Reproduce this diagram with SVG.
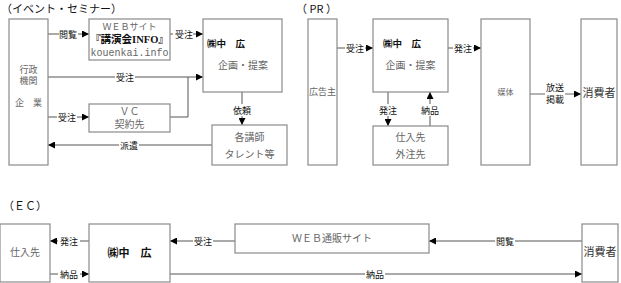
<svg xmlns="http://www.w3.org/2000/svg" width="621" height="283" viewBox="0 0 621 283">
<defs>
<marker id="ah" viewBox="0 0 10 10" refX="10" refY="5" markerWidth="7" markerHeight="7" markerUnits="userSpaceOnUse" orient="auto"><path d="M0,0 L10,5 L0,10 z" fill="#000"/></marker>
<style>
.box{fill:#fff;stroke:#8a8a8a;stroke-width:1.2}
.ln{fill:none;stroke:#555;stroke-width:1}
.arr{fill:none;stroke:#555;stroke-width:1;marker-end:url(#ah)}
.t{font-family:"Liberation Serif","Noto Sans CJK JP",serif;font-size:10px;fill:#666;text-anchor:middle}
.s{font-size:9px}
.b{font-family:"Noto Sans CJK JP",sans-serif;font-size:9.5px;font-weight:bold;fill:#111;text-anchor:middle}
.lb{font-family:"Noto Sans CJK JP",sans-serif;font-size:9px;fill:#111;text-anchor:middle}
.h{font-family:"Noto Sans CJK JP",sans-serif;font-size:11px;fill:#111}
.lbg{fill:#fff}
</style>
</defs>
<rect width="621" height="283" fill="#fff"/>
<text class="h" x="1" y="13">（イベント・セミナー）</text>
<text class="h" x="296" y="13">（ PR ）</text>
<text class="h" x="3" y="210">（ＥＣ）</text>

<g id="connectors">
<!-- event -->
<line class="arr" x1="48" y1="34" x2="89" y2="34"/>
<rect class="lbg" x="59" y="28" width="19" height="12"/><text class="lb" x="68" y="38">閲覧</text>
<line class="arr" x1="170" y1="34" x2="203" y2="34"/>
<rect class="lbg" x="173" y="28" width="20" height="12"/><text class="lb" x="184" y="38">受注</text>
<line class="arr" x1="48" y1="77" x2="203" y2="77"/>
<rect class="lbg" x="115" y="71" width="20" height="12"/><text class="lb" x="125" y="81">受注</text>
<line class="arr" x1="48" y1="117" x2="89" y2="117"/>
<rect class="lbg" x="57" y="111" width="20" height="12"/><text class="lb" x="67" y="121">受注</text>
<polyline class="ln" points="170,117 188,117 188,77"/>
<line class="arr" x1="212" y1="145" x2="48" y2="145"/>
<rect class="lbg" x="119" y="139" width="20" height="12"/><text class="lb" x="129" y="149">派遣</text>
<line class="arr" x1="242" y1="92" x2="242" y2="125"/>
<rect class="lbg" x="232" y="104" width="20" height="12"/><text class="lb" x="242" y="114">依頼</text>
<!-- PR -->
<line class="arr" x1="337" y1="48" x2="373" y2="48"/>
<rect class="lbg" x="345" y="42" width="20" height="12"/><text class="lb" x="355" y="52">受注</text>
<line class="arr" x1="448" y1="48" x2="481" y2="48"/>
<rect class="lbg" x="453" y="42" width="20" height="12"/><text class="lb" x="463" y="52">発注</text>
<line class="arr" x1="388" y1="92" x2="388" y2="126"/>
<rect class="lbg" x="378" y="104" width="20" height="12"/><text class="lb" x="388" y="114">発注</text>
<line class="arr" x1="430" y1="126" x2="430" y2="92"/>
<rect class="lbg" x="420" y="104" width="20" height="12"/><text class="lb" x="430" y="114">納品</text>
<line class="arr" x1="530" y1="94" x2="581" y2="94" style="stroke:#999;stroke-width:1.5"/>
<rect class="lbg" x="545" y="81" width="20" height="24"/>
<text class="lb" x="555" y="91">放送</text><text class="lb" x="555" y="103">掲載</text>
<!-- EC -->
<line class="arr" x1="89" y1="241" x2="50" y2="241"/>
<rect class="lbg" x="58" y="235" width="22" height="12"/><text class="lb" x="69" y="245">発注</text>
<line class="arr" x1="50" y1="274" x2="89" y2="274"/>
<rect class="lbg" x="58" y="268" width="22" height="12"/><text class="lb" x="69" y="278">納品</text>
<line class="arr" x1="235" y1="241" x2="170" y2="241"/>
<rect class="lbg" x="193" y="235" width="20" height="12"/><text class="lb" x="203" y="245">受注</text>
<line class="arr" x1="582" y1="241" x2="429" y2="241"/>
<rect class="lbg" x="495" y="235" width="20" height="12"/><text class="lb" x="505" y="245">閲覧</text>
<line class="arr" x1="170" y1="274" x2="582" y2="274"/>
<rect class="lbg" x="365" y="268" width="20" height="12"/><text class="lb" x="375" y="278">納品</text>
</g>

<g id="gyosei">
<rect class="box" x="9" y="19" width="39" height="146"/>
<text class="t s" x="28.5" y="73">行政</text>
<text class="t s" x="28.5" y="84">機関</text>
<text class="t s" x="28.5" y="106">企　業</text>
</g>
<g id="website">
<rect class="box" x="89" y="19" width="81" height="41"/>
<text class="t" x="129.5" y="30" style="font-size:9px">ＷＥＢサイト</text>
<text class="t" x="129.5" y="43" style="fill:#111;font-weight:bold;font-size:10.5px">『講演会INFO』</text>
<text class="t" x="129.5" y="56" style="font-family:'Liberation Mono',monospace;font-size:10px">kouenkai.info</text>
</g>
<g id="vc">
<rect class="box" x="89" y="104" width="81" height="28"/>
<text class="t" x="129.5" y="115">ＶＣ</text>
<text class="t" x="129.5" y="128">契約先</text>
</g>
<g id="chuko-event">
<rect class="box" x="203" y="19" width="79" height="73"/>
<text class="b" x="207" y="47" style="text-anchor:start">㈱中　広</text>
<text class="t" x="243" y="69">企画・提案</text>
</g>
<g id="koshi">
<rect class="box" x="212" y="125" width="75" height="40"/>
<text class="t" x="249.5" y="141">各講師</text>
<text class="t" x="249.5" y="158">タレント等</text>
</g>
<g id="kokokunushi">
<rect class="box" x="308" y="19" width="29" height="146"/>
<text class="t s" x="322.5" y="95">広告主</text>
</g>
<g id="chuko-pr">
<rect class="box" x="373" y="19" width="75" height="73"/>
<text class="b" x="383" y="47" style="text-anchor:start">㈱中　広</text>
<text class="t" x="410.5" y="69">企画・提案</text>
</g>
<g id="shiiresaki-pr">
<rect class="box" x="373" y="126" width="75" height="39"/>
<text class="t" x="410.5" y="141">仕入先</text>
<text class="t" x="410.5" y="158">外注先</text>
</g>
<g id="baitai">
<rect class="box" x="481" y="19" width="49" height="146"/>
<text class="t" x="505.5" y="95" style="font-size:8px">媒体</text>
</g>
<g id="shohisha-pr">
<rect class="box" x="581" y="19" width="36" height="146"/>
<text class="t" x="599" y="97" style="font-size:11px;fill:#333">消費者</text>
</g>
<g id="shiiresaki-ec">
<rect class="box" x="0" y="224" width="50" height="58"/>
<text class="t" x="25" y="256">仕入先</text>
</g>
<g id="chuko-ec">
<rect class="box" x="89" y="224" width="81" height="58"/>
<text class="b" x="129.5" y="257" style="font-size:11px">㈱中　広</text>
</g>
<g id="webtsuhan">
<rect class="box" x="235" y="224" width="194" height="29"/>
<text class="t" x="332" y="242">ＷＥＢ通販サイト</text>
</g>
<g id="shohisha-ec">
<rect class="box" x="582" y="224" width="36" height="58"/>
<text class="t" x="600" y="256" style="font-size:11px;fill:#333">消費者</text>
</g>
</svg>
